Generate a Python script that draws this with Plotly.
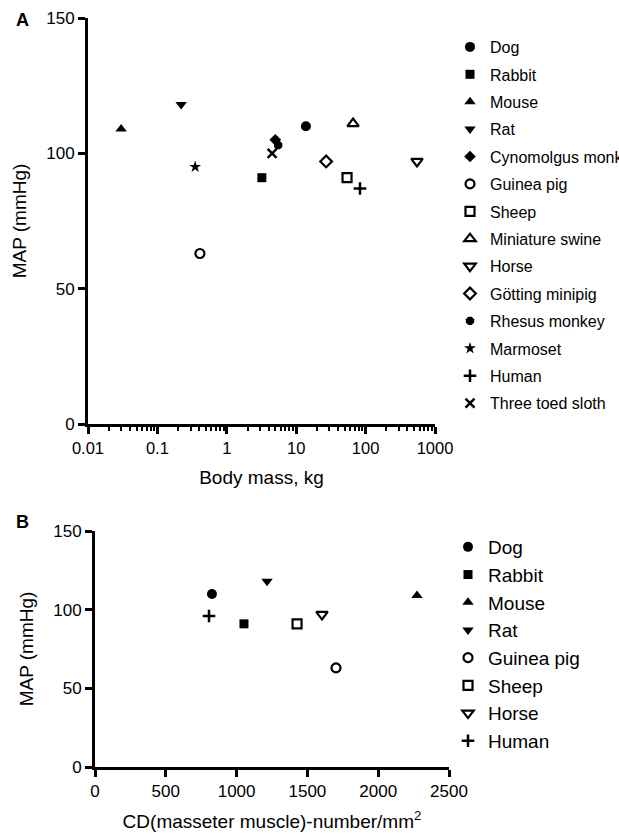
import plotly.graph_objects as go

# ---- data ----
species_a = ["Dog", "Rabbit", "Mouse", "Rat", "Cynomolgus monkey", "Guinea pig",
             "Sheep", "Miniature swine", "Horse", "Götting minipig",
             "Rhesus monkey", "Marmoset", "Human", "Three toed sloth"]
mass_a = [13.8, 3.2, 0.03, 0.22, 5.0, 0.41, 54, 66, 550, 27, 5.5, 0.35, 83, 4.5]
map_a = [110, 91, 109, 118, 105, 63, 91, 111, 97, 97, 103, 95, 87, 100]

species_b = ["Dog", "Rabbit", "Mouse", "Rat", "Guinea pig", "Sheep", "Horse", "Human"]
cd_b = [826, 1052, 2274, 1215, 1702, 1427, 1603, 805]
map_b = [110, 91, 109, 118, 63, 91, 97, 96]

xticks_a = [0.01, 0.1, 1, 10, 100, 1000]
xticklabels_a = ["0.01", "0.1", "1", "10", "100", "1000"]

# ---- styles ----
style = {
    "Dog": ("circle", 10, 0),
    "Rabbit": ("square", 9, 0),
    "Mouse": ("triangle-up", 10, 0),
    "Rat": ("triangle-down", 10, 0),
    "Cynomolgus monkey": ("diamond", 9, 0),
    "Guinea pig": ("circle-open", 9, 2.2),
    "Sheep": ("square-open", 9, 2.2),
    "Miniature swine": ("triangle-up-open", 10, 2.2),
    "Horse": ("triangle-down-open", 10, 2.2),
    "Götting minipig": ("diamond-open", 9, 2.2),
    "Rhesus monkey": ("octagon", 9, 0),
    "Marmoset": ("star", 9, 0),
    "Human": ("cross-thin", 9, 2.5),
    "Three toed sloth": ("x-thin", 9, 2.5),
}

fig = go.Figure()

for i, sp in enumerate(species_a):
    sym, sz, lw = style[sp]
    fig.add_trace(go.Scatter(
        x=[mass_a[i]], y=[map_a[i]], mode="markers", name=sp,
        legend="legend", legendgroup="a" + str(i),
        marker=dict(symbol=sym, size=sz, color="black",
                    line=dict(width=lw, color="black")),
        xaxis="x", yaxis="y"))

for i, sp in enumerate(species_b):
    sym, sz, lw = style[sp]
    fig.add_trace(go.Scatter(
        x=[cd_b[i]], y=[map_b[i]], mode="markers", name=sp,
        legend="legend2",
        marker=dict(symbol=sym, size=sz, color="black",
                    line=dict(width=lw, color="black")),
        xaxis="x2", yaxis="y2"))

W, H = 619, 834
axis_common = dict(showline=True, linecolor="black", linewidth=3,
                   ticks="outside", ticklen=7, tickwidth=3, tickcolor="black",
                   showgrid=False, zeroline=False, mirror=False,
                   tickfont=dict(family="Arial, Liberation Sans", size=16.5, color="black"))

fig.update_layout(
    width=W, height=H,
    margin=dict(l=0, r=0, t=0, b=0, autoexpand=False),
    paper_bgcolor="white", plot_bgcolor="white",
    font=dict(family="Arial, Liberation Sans", color="black"),
    xaxis=dict(**axis_common, type="log", range=[-2, 3],
               domain=[88 / W, 435 / W], anchor="y",
               tickvals=xticks_a, ticktext=xticklabels_a,
               minor=dict(ticks="outside", ticklen=4, tickwidth=2, tickcolor="black",
                          tickvals=[m * 10 ** e for e in range(-2, 3) for m in range(2, 10)]),
               title=dict(text="Body mass, kg", font=dict(size=19))),
    yaxis=dict(**axis_common, range=[0, 150], tickvals=[0, 50, 100, 150],
               domain=[1 - 424 / H, 1 - 18 / H], anchor="x",
               title=dict(text="MAP (mmHg)", font=dict(size=19))),
    xaxis2=dict(**axis_common, range=[0, 2500], tickvals=[0, 500, 1000, 1500, 2000, 2500],
                domain=[95 / W, 449 / W], anchor="y2",
                title=dict(text="CD(masseter muscle)-number/mm<sup>2</sup>", font=dict(size=19))),
    yaxis2=dict(**axis_common, range=[0, 150], tickvals=[0, 50, 100, 150],
                domain=[1 - 767 / H, 1 - 531 / H], anchor="x2",
                title=dict(text="MAP (mmHg)", font=dict(size=19))),
    legend=dict(x=450 / W, y=1 - 30 / H, xanchor="left", yanchor="top",
                font=dict(size=16), traceorder="grouped", tracegroupgap=3.6,
                bgcolor="rgba(0,0,0,0)"),
    legend2=dict(x=448 / W, y=1 - 528 / H, xanchor="left", yanchor="top",
                 font=dict(size=19), bgcolor="rgba(0,0,0,0)"),
    annotations=[
        dict(text="<b>A</b>", x=22 / W, y=1 - 20 / H, xref="paper", yref="paper",
             showarrow=False, font=dict(size=18), xanchor="center", yanchor="middle"),
        dict(text="<b>B</b>", x=22 / W, y=1 - 522 / H, xref="paper", yref="paper",
             showarrow=False, font=dict(size=18), xanchor="center", yanchor="middle"),
    ],
)

fig.update_yaxes(tickfont=dict(size=17))
fig.update_layout(xaxis2_tickfont=dict(size=17))

fig.write_html("out.html", config={"displayModeBar": False},
               post_script="document.body.style.margin='0';document.body.style.overflow='hidden';")
